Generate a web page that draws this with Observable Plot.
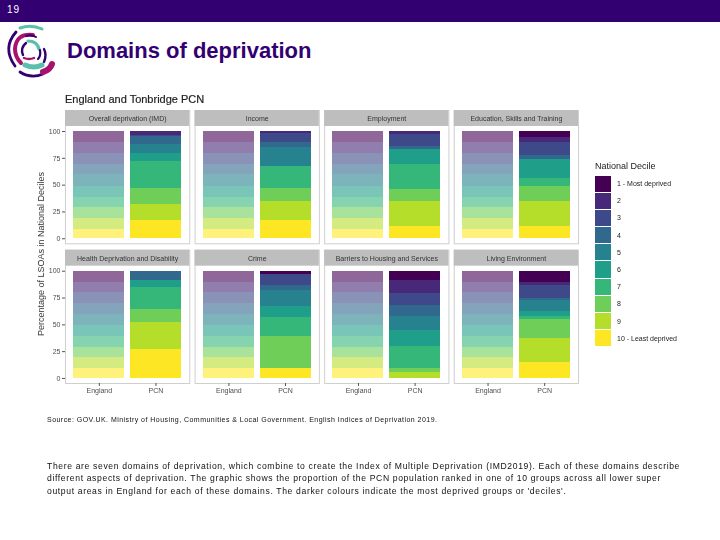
<!DOCTYPE html>
<html><head><meta charset="utf-8">
<script src="https://cdn.jsdelivr.net/npm/d3@7"></script>
<script src="https://cdn.jsdelivr.net/npm/@observablehq/plot@0.6"></script>
<style>
html,body{margin:0;padding:0;background:#fff;}
body{width:720px;height:540px;position:relative;overflow:hidden;font-family:"Liberation Sans",Arial,sans-serif;}
.abs{position:absolute;white-space:nowrap;}
#band{left:0;top:0;width:720px;height:22px;background:#330072;color:#fff;font-size:10px;letter-spacing:1px;line-height:19px;text-indent:7px;}
#title{left:67px;top:39px;font-size:22px;font-weight:bold;color:#330072;line-height:24px;}
#sub{left:65px;top:93px;font-size:11px;color:#222;line-height:12px;filter:blur(.25px);-webkit-text-stroke:.2px #222;}
#ylab{left:41px;top:254px;font-size:9px;color:#333;transform:translate(-50%,-50%) rotate(-90deg);filter:blur(.25px);}
#chart{left:0;top:0;filter:blur(.35px);}
#legendTitle{left:595px;top:161px;font-size:9px;color:#222;line-height:10px;filter:blur(.25px);}
#legend{left:595px;top:175px;filter:blur(.25px);}
.row{display:flex;align-items:center;height:17.2px;}
.sw{width:16px;height:16.2px;margin-right:6px;}
.lb{font-size:7px;color:#222;}
#source{left:47px;top:415px;font-size:7px;letter-spacing:.46px;color:#111;line-height:10px;filter:grayscale(1);}
#body{left:47px;top:460px;font-size:8.6px;letter-spacing:.64px;color:#111;line-height:12.4px;filter:grayscale(1);}
</style></head><body>
<div id="chart" class="abs"></div>
<div id="band" class="abs">19</div>
<svg class="abs" style="left:0;top:22px" width="60" height="60" viewBox="0 0 60 60" fill="none" stroke-linecap="round">
<path d="M20 6 Q31 2 42 7" stroke="#5bbfae" stroke-width="3"/>
<path d="M16 10 Q2 26 15 44" stroke="#330072" stroke-width="2.8"/>
<path d="M33 13 Q16 11 15 27 Q15 35 21 41" stroke="#a8126e" stroke-width="4"/>
<path d="M26 14 Q31 12 36 15" stroke="#330072" stroke-width="2"/>
<path d="M26 21 Q20 26 23 33" stroke="#330072" stroke-width="2.4"/>
<path d="M28 19 Q37 19 39 27" stroke="#5bbfae" stroke-width="3.2"/>
<path d="M40 28 Q41 34 38 37" stroke="#330072" stroke-width="2.2"/>
<path d="M24 36 Q29 38 34 36" stroke="#a8126e" stroke-width="2.4"/>
<path d="M44 27 Q47 33 44 40" stroke="#330072" stroke-width="2.4"/>
<path d="M25 43 Q34 47 42 43" stroke="#5bbfae" stroke-width="5"/>
<path d="M20 50 Q31 57 43 52" stroke="#330072" stroke-width="2.8"/>
<path d="M43 50 Q50 48 52 42" stroke="#a8126e" stroke-width="6"/>
</svg>
<div id="title" class="abs">Domains of deprivation</div>
<div id="sub" class="abs">England and Tonbridge PCN</div>
<div id="ylab" class="abs">Percentage of LSOAs in National Deciles</div>
<div id="legendTitle" class="abs">National Decile</div>
<div id="legend" class="abs"></div>
<div id="source" class="abs">Source: GOV.UK. Ministry of Housing, Communities &amp; Local Government. English Indices of Deprivation 2019.</div>
<div id="body" class="abs">There are seven domains of deprivation, which combine to create the Index of Multiple Deprivation (IMD2019). Each of these domains describe<br>different aspects of deprivation. The graphic shows the proportion of the PCN population ranked in one of 10 groups across all lower super<br>output areas in England for each of these domains. The darker colours indicate the most deprived groups or 'deciles'.</div>
<script>
const domains = ["Overall deprivation (IMD)","Income","Employment","Education, Skills and Training","Health Deprivation and Disability","Crime","Barriers to Housing and Services","Living Environment"];
const deciles = [1,2,3,4,5,6,7,8,9,10];
const decileLabels = ["1 - Most deprived","2","3","4","5","6","7","8","9","10 - Least deprived"];
const colours = ["#440154","#482878","#3e4989","#31688e","#26828e","#1f9e89","#35b779","#6ece58","#b5de2b","#fde725"];
const england = [10.3,10,10,10,10.6,10.3,10,9.7,10.2,8.9];
const pcnOverall   = [0,4,1,7.4,8.1,7.2,25.9,14.3,15,17.1];
const pcnIncome    = [0,2,8,4.9,18,0,20.6,11.9,17.4,17.2];
const pcnEmployment= [0,3,11,2.8,0,13.8,23.1,11.8,22.7,11.8];
const pcnEducation = [5.3,5,12.5,3.7,0,16.9,7.6,14.6,22.7,11.8];
const pcnHealth    = [0,0,0,8.4,0,7.1,19.8,12.4,25.7,26.6];
const pcnCrime     = [2.8,0,10.5,4.3,15.2,10.2,17.7,30.3,0,9];
const pcnBarriers  = [8.4,12,12,10.2,13,14.9,19.9,4,5.6,0];
const pcnLiving    = [10.2,2.8,12.4,2,9.7,5.3,3,17.6,22,15];
const pcnAll = [pcnOverall,pcnIncome,pcnEmployment,pcnEducation,pcnHealth,pcnCrime,pcnBarriers,pcnLiving];
const areas = ["England","PCN"];
const yTicks = [0,25,50,75,100];

const rows = [];
domains.forEach((d,i)=>{
  const add=(area,vals,alpha)=>{
    const sum=d3.sum(vals); let acc=0;
    vals.forEach((v,j)=>{
      const y2=100-acc/sum*100; acc+=v; const y1=100-acc/sum*100;
      rows.push({domain:d,col:i%4,row:Math.floor(i/4),area,decile:deciles[j],value:v,y1,y2,colour:colours[j],alpha});
    });
  };
  add("England",england,0.6);
  add("PCN",pcnAll[i],1);
});
const panels = domains.map((d,i)=>({domain:d,col:i%4,row:Math.floor(i/4)}));
const fxy = {fx:"col",fy:"row"};
const yLow=-4.7, yStripBottom=104.7, yStripText=112.1, yTop=119.6;

const chart = Plot.plot({
  width:720,height:403,
  marginLeft:65,marginRight:142,marginTop:110,marginBottom:20,
  style:{fontFamily:"'Liberation Sans',Arial,sans-serif",fontSize:"7px",background:"transparent",overflow:"visible"},
  fx:{domain:[0,1,2,3],padding:0.041,paddingOuter:0,round:false,axis:null},
  fy:{domain:[0,1],padding:0.046,paddingOuter:0,round:false,axis:null},
  x:{domain:areas,paddingInner:0.1,paddingOuter:0.147,round:false,axis:null},
  y:{domain:[yLow,yTop],axis:null},
  marks:[
    Plot.frame({stroke:"#cfcfcf",strokeWidth:1}),
    Plot.rectY(panels,{...fxy,y1:yStripBottom,y2:yTop,fill:"#bebebe"}),
    Plot.text(panels,{...fxy,text:"domain",y:yStripText,fontSize:7,fill:"#333"}),
    Plot.barY(rows,{...fxy,x:"area",y1:"y1",y2:"y2",fill:"colour",fillOpacity:"alpha",shapeRendering:"crispEdges"}),
    Plot.axisY(yTicks,{anchor:"left",tickSize:3,tickPadding:2,label:null,fontSize:7,color:"#4d4d4d",stroke:"#555"}),
    Plot.axisX({anchor:"bottom",tickSize:3,tickPadding:2,label:null,fontSize:7,color:"#4d4d4d",stroke:"#555"})
  ]
});
document.getElementById("chart").appendChild(chart);

const leg = document.getElementById("legend");
decileLabels.forEach((t,i)=>{
  const r=document.createElement("div");r.className="row";
  const s=document.createElement("div");s.className="sw";s.style.background=colours[i];
  const l=document.createElement("div");l.className="lb";l.textContent=t;
  r.append(s,l);leg.append(r);
});
</script>
</body></html>
